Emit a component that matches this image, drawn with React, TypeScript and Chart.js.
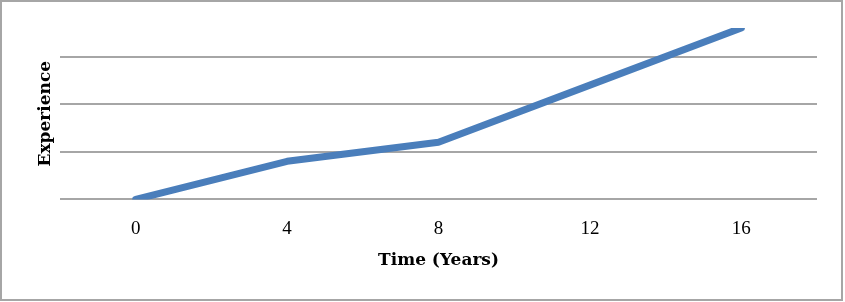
import React, { useEffect, useRef } from "react";
import { Chart, registerables } from "chart.js";

Chart.register(...registerables);

const timeLabels: string[] = ["0", "4", "8", "12", "16"];
const experienceValues: number[] = [0, 4, 6, 12, 18];
const yMin = 0;
const yMax = 18;
const yStep = 5;

const borderPlugin = {
  id: "outerBorder",
  afterDraw(chart: any) {
    const ctx = chart.ctx;
    ctx.save();
    ctx.strokeStyle = "#a6a6a6";
    ctx.lineWidth = 2;
    ctx.strokeRect(1, 1, 841, 299);
    ctx.restore();
  },
};

export default function App() {
  const ref = useRef<HTMLCanvasElement | null>(null);

  useEffect(() => {
    document.body.style.margin = "0";
    const canvas = ref.current;
    if (!canvas) return;
    const chart = new Chart(canvas, {
      type: "line",
      data: {
        labels: timeLabels,
        datasets: [
          {
            label: "Experience",
            data: experienceValues,
            borderColor: "#4a7ebb",
            backgroundColor: "#4a7ebb",
            borderWidth: 7,
            pointRadius: 0,
            pointHoverRadius: 0,
            tension: 0,
            borderCapStyle: "round",
            borderJoinStyle: "round",
            clip: 0,
          },
        ],
      },
      options: {
        animation: false,
        responsive: false,
        maintainAspectRatio: false,
        events: [],
        layout: { padding: { left: 20, right: 28, top: 28, bottom: 20 } },
        plugins: {
          legend: { display: false },
          tooltip: { enabled: false },
        },
        scales: {
          x: {
            type: "category",
            offset: true,
            grid: { display: false, drawTicks: false },
            border: { display: false },
            ticks: {
              color: "#000",
              padding: 18,
              font: { family: "'Liberation Serif', serif", size: 19 },
              maxRotation: 0,
            },
            title: {
              display: true,
              text: "Time (Years)",
              color: "#000",
              font: { family: "'DejaVu Serif', serif", size: 17, weight: "bold" },
              padding: { top: -8, bottom: 11.4 },
            },
          },
          y: {
            min: yMin,
            max: yMax,
            ticks: { display: false, stepSize: yStep },
            grid: {
              drawTicks: false,
              lineWidth: 2,
              color: (ctx: any) =>
                ctx.tick && ctx.tick.value % yStep === 0 ? "#a6a6a6" : "rgba(0,0,0,0)",
            },
            border: { display: false },
            title: {
              display: true,
              text: "Experience",
              color: "#000",
              font: { family: "'DejaVu Serif', serif", size: 17, weight: "bold" },
              padding: { top: 15.3, bottom: 4.3 },
            },
          },
        },
      },
      plugins: [borderPlugin],
    });
    return () => chart.destroy();
  }, []);

  return (
    <div style={{ width: 845, height: 302 }}>
      <canvas ref={ref} width={845} height={302} style={{ display: "block", width: 845, height: 302 }} />
    </div>
  );
}
